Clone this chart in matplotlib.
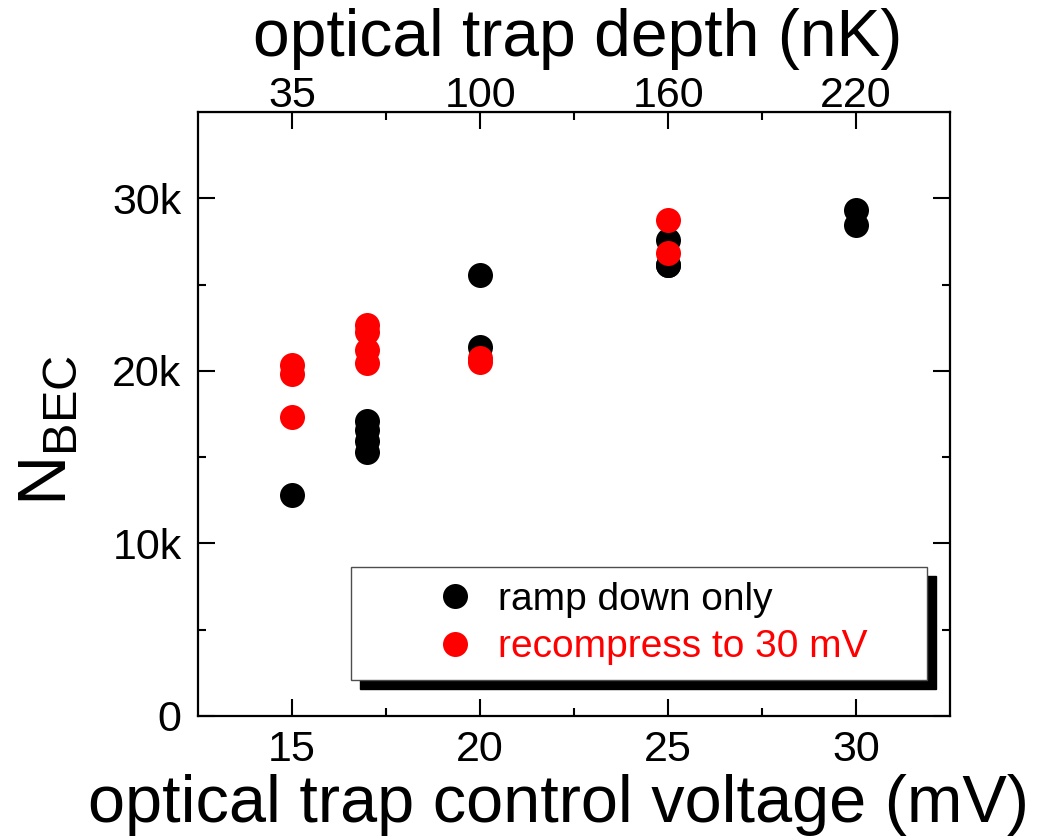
import numpy as np
import matplotlib.pyplot as plt
from matplotlib.patches import Rectangle
from matplotlib.transforms import IdentityTransform

plt.rcParams['font.family'] = ['Liberation Sans', 'DejaVu Sans']
plt.rcParams['mathtext.fontset'] = 'custom'
plt.rcParams['mathtext.rm'] = 'Liberation Sans'

# control voltage (mV) and BEC atom number
v_ramp = [15, 17, 17, 17, 17, 20, 20, 25, 25, 25, 30, 30]
n_ramp = [12800, 17080, 16560, 15920, 15290, 25540, 21380, 27600, 26110, 26110, 29300, 28470]
v_recomp = [15, 15, 15, 17, 17, 17, 17, 20, 20, 25, 25]
n_recomp = [20340, 19840, 17340, 22660, 22240, 21230, 20440, 20730, 20500, 28720, 26810]

xticks = [15, 20, 25, 30]
depth_labels = ['35', '100', '160', '220']
yticks = [0, 10000, 20000, 30000]
ytick_labels = ['0', '10k', '20k', '30k']

fig = plt.figure(figsize=(10.43, 8.38), dpi=100)
ax = fig.add_axes([0.19, 0.1456, 0.721, 0.7208])

ax.plot(v_ramp, n_ramp, 'o', color='black', ms=18, mec='none', label='ramp down only')
ax.plot(v_recomp, n_recomp, 'o', color='red', ms=18, mec='none', label='recompress to 30 mV')

ax.set_xlim(12.5, 32.5)
ax.set_ylim(0, 35000)
ax.set_xticks(xticks)
ax.set_xticks([17.5, 22.5, 27.5], minor=True)
ax.set_yticks(yticks)
ax.set_yticklabels(ytick_labels)
ax.set_yticks([5000, 15000, 25000], minor=True)

for s in ax.spines.values():
    s.set_linewidth(1.6)
ax.tick_params(which='both', direction='in', right=True, width=1.5, labelsize=31, pad=10)
ax.tick_params(which='major', length=12)
ax.tick_params(which='minor', length=6)
ax.tick_params(axis='y', pad=12)

# upper axis: trap depth at the same control voltages
top = ax.secondary_xaxis('top')
top.set_xticks(xticks)
top.set_xticklabels(depth_labels)
top.set_xticks([17.5, 22.5, 27.5], minor=True)
top.tick_params(which='both', direction='in', width=1.5, labelsize=31, pad=-3)
top.tick_params(which='major', length=12)
top.tick_params(which='minor', length=6)
top.set_xlabel('optical trap depth (nK)', fontsize=47.5)
top.xaxis.set_label_coords(0.505, 1.07, transform=ax.transAxes)
top.xaxis.label.set_va('bottom')

ax.set_xlabel('optical trap control voltage (mV)', fontsize=48, labelpad=3)
ax.xaxis.label.set_x(0.479)
ax.set_ylabel(r'N$_{\mathregular{BEC}}$', fontsize=50)
ax.yaxis.set_label_coords(-0.158, 0.473)

leg = ax.legend(loc='lower left', bbox_to_anchor=(0.203, 0.0596, 0.766, 0.19),
                mode='expand', fontsize=28, frameon=True, fancybox=False,
                framealpha=1, borderpad=0.38, labelspacing=0.3, handlelength=4.6,
                handletextpad=-1.2, borderaxespad=0, numpoints=1)
leg.get_frame().set_edgecolor('0.3')
leg.get_frame().set_linewidth(1.0)
for txt, c in zip(leg.get_texts(), ['black', 'red']):
    txt.set_color(c)

# offset black block behind the legend
fig.canvas.draw()
bb = leg.get_window_extent()
ax.add_patch(Rectangle((bb.x0 + 9, bb.y0 - 9), bb.width, bb.height,
                       transform=IdentityTransform(), color='black',
                       zorder=4, clip_on=False))

fig.savefig('out.png', dpi=100)
